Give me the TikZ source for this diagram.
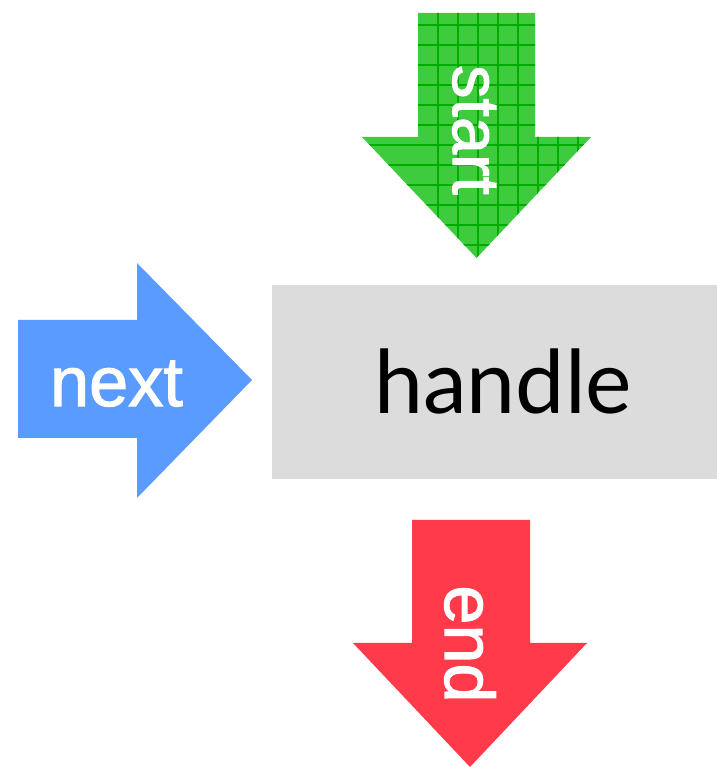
\documentclass[tikz,border=0pt]{standalone}
\usepackage{fontspec}
\setmainfont{Lato}
\newfontfamily\arrowfont[FakeBold=1.6]{Liberation Sans}
\usetikzlibrary{positioning}

\definecolor{handlegray}{RGB}{220,220,220}
\definecolor{startgreen}{RGB}{62,204,62}
\definecolor{gridgreen}{RGB}{0,172,0}
\definecolor{nextblue}{RGB}{90,155,255}
\definecolor{endred}{RGB}{255,58,74}

\begin{document}
\begin{tikzpicture}[
    x=0.02cm, y=0.02cm,
    handlebox/.style={
        fill=handlegray, inner sep=0pt, minimum width=8.9cm, minimum height=3.88cm,
        font=\fontsize{50}{50}\selectfont, text=black
    },
    arrowlabel/.style={
        inner sep=0pt, text=white, font=\arrowfont\fontsize{40}{40}\selectfont
    },
    gridline/.style={
        draw=gridgreen, line width=1.6pt
    }
]
    \useasboundingbox (0,0) rectangle (717,768);

    % Centre box
    \node[handlebox] (handle) at (494.5,386) {\hspace*{10pt}handle};

    % Start arrow (green, checked)
    \begin{scope}
        \clip (418,755) -- (535,755) -- (535,631) -- (591,631) -- (476.5,510)
            -- (362,631) -- (418,631) -- cycle;
        \fill[startgreen] (350,500) rectangle (600,760);
        \foreach \gx in {438,458,...,598}
            \draw[gridline] (\gx,500) -- (\gx,760);
        \foreach \gy in {743,723,...,503}
            \draw[gridline] (350,\gy) -- (600,\gy);
    \end{scope}
    \node[arrowlabel, rotate=-90, anchor=base, font=\arrowfont\fontsize{38}{38}\selectfont] (startlbl) at (453,638) {start};

    % Next arrow (blue)
    \fill[nextblue] (18,448) -- (137,448) -- (137,505) -- (252,388) -- (137,270)
        -- (137,330) -- (18,330) -- cycle;
    \node[arrowlabel, anchor=base] (nextlbl) at (116.5,362) {next};

    % End arrow (red)
    \fill[endred] (412,248) -- (530,248) -- (530,125) -- (587,125) -- (470,1)
        -- (353,125) -- (412,125) -- cycle;
    \node[arrowlabel, rotate=-90, anchor=base] (endlbl) at (445,124) {end};

\end{tikzpicture}
\end{document}
